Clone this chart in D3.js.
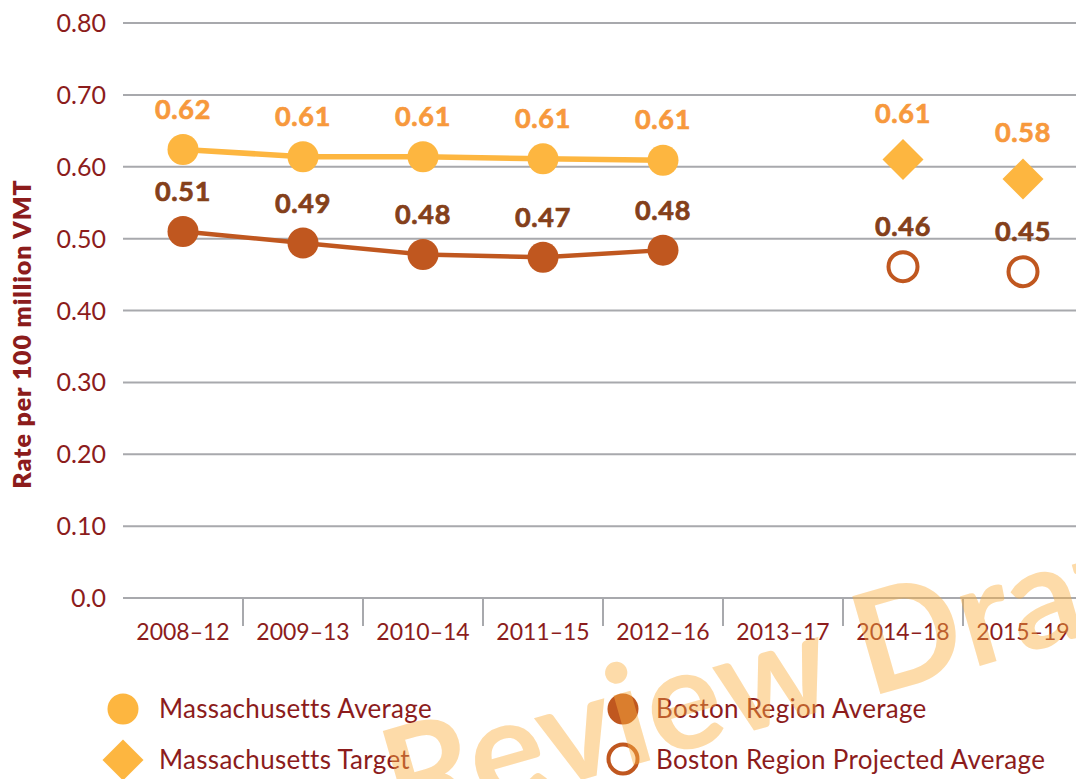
<!DOCTYPE html>
<html>
<head>
<meta charset="utf-8">
<script src="https://cdn.jsdelivr.net/npm/d3@7/dist/d3.min.js"></script>
<style>
  html, body { margin: 0; padding: 0; background: #fff; }
  svg { display: block; }
  text { font-family: Lato, "Open Sans", sans-serif; }
</style>
</head>
<body>
<svg id="chart" width="1076" height="779"></svg>
<script>
// Five-year periods on the x axis
const periods = ["2008–12", "2009–13", "2010–14", "2011–15", "2012–16", "2013–17", "2014–18", "2015–19"];

// Fatality rate per 100 million VMT
const maAverage = [0.624, 0.614, 0.614, 0.611, 0.609];
const bostonAverage = [0.510, 0.494, 0.478, 0.474, 0.484];
const maTargetPeriods = ["2014–18", "2015–19"];
const maTarget = [0.610, 0.583];
const bostonProjected = [0.461, 0.454];

const yTicks = [0, 0.1, 0.2, 0.3, 0.4, 0.5, 0.6, 0.7, 0.8];
const yTickLabels = ["0.0", "0.10", "0.20", "0.30", "0.40", "0.50", "0.60", "0.70", "0.80"];

const legendItems = [
  { label: "Massachusetts Average", kind: "maAvg" },
  { label: "Massachusetts Target", kind: "maTarget" },
  { label: "Boston Region Average", kind: "bosAvg" },
  { label: "Boston Region Projected Average", kind: "bosProj" }
];

const C = {
  text: "#8C1C1C",
  grid: "#A8A9AD",
  maFill: "#FDB640",
  maLabel: "#F7993C",
  bosFill: "#C0571F",
  bosLabel: "#84401A",
  watermark: "#FBB040"
};

const svg = d3.select("#chart");

const x = d3.scaleBand().domain(periods).range([123, 1083]).padding(0);
const y = d3.scaleLinear().domain([0, 0.8]).range([598, 23]);
const cx = p => x(p) + x.bandwidth() / 2;
const fmt = d3.format(".2f");

// Horizontal gridlines
svg.append("g").selectAll("line").data(yTicks).join("line")
  .attr("x1", 123).attr("x2", 1083)
  .attr("y1", d => y(d)).attr("y2", d => y(d))
  .attr("stroke", C.grid).attr("stroke-width", 2);

// Y tick labels
svg.append("g").selectAll("text").data(yTicks).join("text")
  .attr("x", 106).attr("y", d => y(d) + 9)
  .attr("text-anchor", "end")
  .attr("font-size", 25)
  .attr("fill", C.text)
  .text((d, i) => yTickLabels[i]);

// Y axis title
svg.append("text")
  .attr("transform", "translate(31,334) rotate(-90)")
  .attr("text-anchor", "middle")
  .attr("font-size", 25)
  .attr("font-weight", 800)
  .attr("letter-spacing", 0.9)
  .attr("fill", C.text)
  .text("Rate per 100 million VMT");

// X axis: category separators below the baseline
const xAxis = d3.axisBottom(x).tickSize(0).tickPadding(0);
const gx = svg.append("g").attr("transform", `translate(0,${y(0)})`).call(xAxis);
gx.select(".domain").remove();
gx.selectAll(".tick text")
  .attr("y", 42)
  .attr("dy", 0)
  .attr("font-size", 23)
  .attr("font-family", "Lato, sans-serif")
  .attr("fill", C.text);
svg.append("g").selectAll("line").data(periods.slice(1)).join("line")
  .attr("x1", d => x(d)).attr("x2", d => x(d))
  .attr("y1", y(0)).attr("y2", y(0) + 28)
  .attr("stroke", C.grid).attr("stroke-width", 2);

// Average lines and points
const maPts = maAverage.map((v, i) => ({ p: periods[i], v }));
const bosPts = bostonAverage.map((v, i) => ({ p: periods[i], v }));
const line = d3.line().x(d => cx(d.p)).y(d => y(d.v));

svg.append("path").datum(maPts).attr("d", line)
  .attr("fill", "none").attr("stroke", C.maFill).attr("stroke-width", 5.5);
svg.append("path").datum(bosPts).attr("d", line)
  .attr("fill", "none").attr("stroke", C.bosFill).attr("stroke-width", 4.5);

svg.append("g").selectAll("circle").data(maPts).join("circle")
  .attr("cx", d => cx(d.p)).attr("cy", d => y(d.v)).attr("r", 15.5)
  .attr("fill", C.maFill);
svg.append("g").selectAll("circle").data(bosPts).join("circle")
  .attr("cx", d => cx(d.p)).attr("cy", d => y(d.v)).attr("r", 15.5)
  .attr("fill", C.bosFill);

// Target diamonds and projected rings
const tgtPts = maTarget.map((v, i) => ({ p: maTargetPeriods[i], v }));
const projPts = bostonProjected.map((v, i) => ({ p: maTargetPeriods[i], v }));
const diamond = (px, py, h) => `M${px},${py - h}L${px + h},${py}L${px},${py + h}L${px - h},${py}Z`;

svg.append("g").selectAll("path").data(tgtPts).join("path")
  .attr("d", d => diamond(cx(d.p), y(d.v), 20.5))
  .attr("fill", C.maFill);
svg.append("g").selectAll("circle").data(projPts).join("circle")
  .attr("cx", d => cx(d.p)).attr("cy", d => y(d.v)).attr("r", 14.5)
  .attr("fill", "#fff").attr("stroke", C.bosFill).attr("stroke-width", 4);

// Value labels
function valueLabels(data, color, offset) {
  svg.append("g").selectAll("text").data(data).join("text")
    .attr("x", d => cx(d.p)).attr("y", d => y(d.v) - offset)
    .attr("text-anchor", "middle")
    .attr("font-size", 27).attr("font-weight", 700)
    .attr("letter-spacing", 0.6)
    .attr("fill", color)
    .attr("stroke", color).attr("stroke-width", 0.7)
    .text(d => fmt(d.v));
}
valueLabels(maPts, C.maLabel, 31);
valueLabels(bosPts, C.bosLabel, 30);
valueLabels(tgtPts, C.maLabel, 37);
valueLabels(projPts, C.bosLabel, 31);

// Legend
const legendPos = [
  { mx: 123, my: 709, tx: 159, ty: 718 },
  { mx: 123, my: 760, tx: 159, ty: 769 },
  { mx: 623, my: 709, tx: 656, ty: 718 },
  { mx: 623, my: 759, tx: 656, ty: 769 }
];
const lg = svg.append("g");
legendItems.forEach((item, i) => {
  const p = legendPos[i];
  if (item.kind === "maAvg") {
    lg.append("circle").attr("cx", p.mx).attr("cy", p.my).attr("r", 15.5).attr("fill", C.maFill);
  } else if (item.kind === "maTarget") {
    lg.append("path").attr("d", diamond(p.mx, p.my, 20.5)).attr("fill", C.maFill);
  } else if (item.kind === "bosAvg") {
    lg.append("circle").attr("cx", p.mx).attr("cy", p.my).attr("r", 15.5).attr("fill", C.bosFill);
  } else {
    lg.append("circle").attr("cx", p.mx).attr("cy", p.my).attr("r", 14.5)
      .attr("fill", "#fff").attr("stroke", C.bosFill).attr("stroke-width", 4);
  }
  lg.append("text").attr("x", p.tx).attr("y", p.ty)
    .attr("font-size", 26).attr("letter-spacing", 0.3).attr("fill", C.text).text(item.label);
});

// Draft watermark across the lower right
svg.append("text")
  .attr("transform", "translate(400,832) rotate(-16)")
  .attr("font-family", "'Liberation Sans', Arial, sans-serif")
  .attr("font-weight", 700)
  .attr("font-size", 141)
  .attr("fill", C.watermark)
  .attr("fill-opacity", 0.45)
  .text("Review Draft");
</script>
</body>
</html>
